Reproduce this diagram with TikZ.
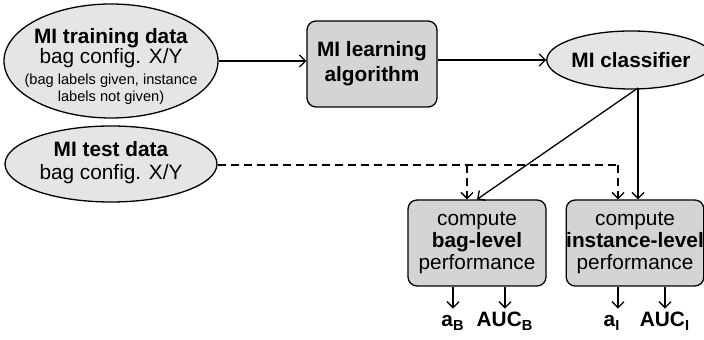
\documentclass[tikz,border=0pt]{standalone}
\usepackage{fontspec}
\setmainfont{Liberation Sans}
\usetikzlibrary{shapes.geometric,arrows.meta}

\begin{document}
\begin{tikzpicture}[x=0.5pt,y=-0.5pt,font=\fontsize{10.4}{11}\selectfont,
	data/.style={ellipse,draw,line width=0.65pt,fill=black!10,inner sep=0pt},
	algo/.style={rectangle,rounded corners=4.5pt,draw,line width=0.65pt,fill=black!17,align=center,inner sep=0pt},
	flow/.style={line width=0.65pt,-{Straight Barb[length=3pt,width=6pt]}},
	testflow/.style={flow,dash pattern=on 4pt off 2.5pt},
	result/.style={anchor=base,font=\fontsize{10.4}{11}\selectfont\bfseries,text height=7pt,inner sep=2pt}]
	\useasboundingbox (0,0) rectangle (704,340);
	
	% data and learner
	\node[data,minimum width=107pt,minimum height=57pt] (train) at (111,61) {};
	\node[align=center,font=\fontsize{10.4}{10.2}\selectfont] (traintxt) at (111,48) {\textbf{MI training data}\\bag config. X/Y};
	\node[align=center,font=\fontsize{7.3}{8.5}\selectfont] (trainnote) at (111,89) {(bag labels given, instance\\labels not given)};
	\node[data,minimum width=106pt,minimum height=38pt] (test) at (111,164) {};
	\node[align=center,font=\fontsize{10.4}{11.5}\selectfont] (testtxt) at (111,163) {\textbf{MI test data}\\bag config. X/Y};
	\node[algo,minimum width=65pt,minimum height=43pt,font=\fontsize{10.4}{12.5}\selectfont\bfseries] (learn) at (372,64) {MI learning\\algorithm};
	\node[data,minimum width=71.5pt,minimum height=29pt,font=\fontsize{10.4}{11}\selectfont\bfseries] (clf) at (631,60) {MI classifier};
	
	% evaluation
	\node[algo,minimum width=69pt,minimum height=43pt] (bag) at (477,243) {compute\\\textbf{bag-level}\\performance};
	\node[algo,minimum width=67.5pt,minimum height=43pt] (inst) at (635,243) {compute\\\textbf{instance-level}\\performance};
	\node[result] (aB) at (453,327) {a\textsubscript{B}};
	\node[result] (aucB) at (505,327) {AUC\textsubscript{B}};
	\node[result] (aI) at (612,327) {a\textsubscript{I}};
	\node[result] (aucI) at (665,327) {AUC\textsubscript{I}};
	
	\coordinate (split) at (638,88);
	\coordinate (dbag) at (467,165);
	\coordinate (dinst) at (618,165);
	
	\draw[flow] (train.east) -- (train.east -| learn.west);
	\draw[flow] (clf.west -| learn.east) -- (clf.west);
	\draw[flow] (split) -- (bag.north);
	\draw[flow] (split) -- (split |- inst.north);
	\draw[line width=0.65pt,dash pattern=on 4pt off 2.5pt] (test.east |- dbag) -- (dinst);
	\draw[testflow] (dbag) -- (dbag |- bag.north);
	\draw[testflow] (dinst) -- (dinst |- inst.north);
	
	\draw[flow] (aB.north |- bag.south) -- (aB.north);
	\draw[flow] (aucB.north |- bag.south) -- (aucB.north);
	\draw[flow] ([xshift=3pt]aI.north |- inst.south) -- ([xshift=3pt]aI.north);
	\draw[flow] (aucI.north |- inst.south) -- (aucI.north);
\end{tikzpicture}
\end{document}
